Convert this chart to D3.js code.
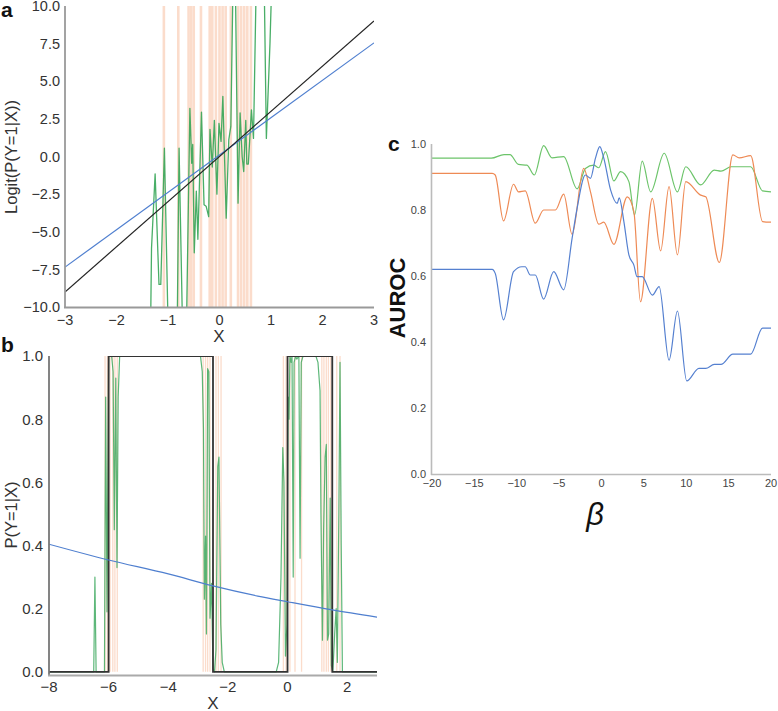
<!DOCTYPE html>
<html>
<head>
<meta charset="utf-8">
<script src="https://cdn.jsdelivr.net/npm/d3@7"></script>
<style>
  html, body { margin: 0; padding: 0; background: #fff; }
  svg { display: block; }
  text { font-family: "Liberation Sans", Arial, sans-serif; }
</style>
</head>
<body>
<div id="chart"></div>
<script>
// ---------- Panel a data ----------
const aXTicks = [-3, -2, -1, 0, 1, 2, 3];
const aYTicks = [-10, -7.5, -5, -2.5, 0, 2.5, 5, 7.5, 10];
const aTrueX = [-3, 3];
const aTrueY = [-9, 9];
const aFitX = [-3, 3];
const aFitY = [-7.35, 7.55];
const aSampleX = [-1.08, -0.80, -0.60, -0.55, -0.50, -0.36, -0.19, -0.14, -0.07, 0.0, 0.06, 0.12, 0.22, 0.36, 0.42, 0.48, 0.54, 0.61];
const aEstX = [-1.34, -1.32, -1.25, -1.175, -1.14, -1.07, -1.0, -0.82, -0.785, -0.72, -0.64, -0.575, -0.54, -0.52, -0.49, -0.45, -0.42, -0.35, -0.30, -0.26, -0.21, -0.185, -0.14, -0.10, -0.05, -0.01, 0.03, 0.065, 0.13, 0.18, 0.22, 0.26, 0.31, 0.36, 0.40, 0.44, 0.47, 0.51, 0.53, 0.56, 0.62, 0.66, 0.71, 0.87, 0.91, 0.98, 1.01];
const aEstY = [-12, -6.1, -1.15, -8.5, -8.5, 0.55, -11, -11, 0.55, -11, -11, 3.2, -0.45, 0.8, -6.4, -2.3, -5.5, 2.95, -3.2, -3.3, -4.0, 1.8, -0.7, 2.4, -2.5, 2.2, 1.0, 4.0, -4.1, 1.1, 2.0, 11, 11, -3.1, 2.9, 0.0, -1.0, 2.4, -0.5, -0.5, 3.1, 1.2, 11, 11, 1.2, 7.5, 11];

// ---------- Panel b data ----------
const bXTicks = [-8, -6, -4, -2, 0, 2];
const bYTicks = [0, 0.2, 0.4, 0.6, 0.8, 1.0];
const bStepX = [-8, -6.0, -6.0, -2.5, -2.5, 0, 0, 1.5, 1.5, 3];
const bStepY = [0, 0, 1, 1, 0, 0, 1, 1, 0, 0];
const bFitX = [-8, -6, -4, -2.5, -1, 0, 1.5, 3];
const bFitY = [0.404, 0.354, 0.31, 0.272, 0.24, 0.222, 0.196, 0.173];
const bSampleX = [-6.12, -6.04, -5.95, -5.86, -5.79, -5.71, -2.83, -2.75, -2.68, -2.60, -2.40, -2.32, -2.23, -0.14, -0.05, 0.08, 0.25, 0.47, 1.15, 1.22, 1.30, 1.37, 1.45, 1.65, 1.76];
const bEstX = [-8, -6.55, -6.50, -6.46, -6.42, -6.14, -6.10, -6.055, -6.0, -5.9, -5.85, -5.81, -5.76, -5.72, -5.68, -5.63, -2.92, -2.86, -2.82, -2.79, -2.75, -2.72, -2.68, -2.64, -2.60, -2.55, -2.50, -2.45, -2.40, -2.34, -2.30, -2.24, -2.19, -2.12, -0.38, -0.30, -0.22, -0.16, -0.12, -0.07, -0.02, 0.02, 0.05, 0.08, 0.12, 0.15, 0.19, 0.22, 0.27, 0.31, 0.38, 0.42, 0.46, 0.52, 0.95, 1.02, 1.09, 1.12, 1.17, 1.21, 1.26, 1.30, 1.34, 1.38, 1.43, 1.47, 1.52, 1.58, 1.63, 1.67, 1.72, 1.76, 1.80, 1.84, 3];
const bEstY = [0, 0, 0, 0.30, 0, 0, 0.87, 0.19, 1.0, 1.0, 0.95, 0.45, 0.93, 0.33, 0.87, 1.0, 1.0, 0.95, 0.77, 0.23, 0.43, 0.12, 0.96, 0.95, 0.17, 0.28, 0.01, 0, 0.07, 0.65, 0.68, 0.15, 0.03, 0, 0, 0.03, 0.30, 0.71, 0.60, 0.05, 0.15, 0.87, 0.80, 1.0, 0.98, 1.0, 0.30, 0.98, 1.0, 0.99, 1.0, 0.36, 0.98, 1.0, 1.0, 0.98, 0.89, 0.50, 0.10, 0.45, 0.68, 0.72, 0.10, 0.12, 0.55, 0.02, 0, 0.12, 0.20, 0.03, 0.50, 0.98, 0.40, 0, 0];

// ---------- Panel c data ----------
const cXTicks = [-20, -15, -10, -5, 0, 5, 10, 15, 20];
const cYTicks = [0, 0.2, 0.4, 0.6, 0.8, 1.0];
const cGreenX = [-20, -13, -11.5, -10.8, -9.8, -8.8, -7.93, -6.83, -5.84, -4.46, -2.88, -1.9, -0.91, -0.32, 0.47, 1.46, 2.25, 3.23, 3.9, 4.8, 5.8, 7.4, 8.96, 9.94, 11.7, 13.3, 14.1, 15.3, 17.6, 19.0, 20];
const cGreenY = [0.957, 0.957, 0.968, 0.968, 0.938, 0.936, 0.906, 0.995, 0.958, 0.962, 0.864, 0.926, 0.936, 0.928, 0.977, 0.888, 0.916, 0.886, 0.785, 0.948, 0.855, 0.972, 0.855, 0.931, 0.876, 0.921, 0.918, 0.931, 0.931, 0.858, 0.855];
const cOrangeX = [-20, -12.9, -12.54, -11.56, -10.38, -9.8, -9.0, -7.81, -6.83, -5.44, -4.46, -3.47, -2.1, -1.3, -0.32, 0.27, 1.46, 3.04, 3.82, 4.6, 6.0, 6.98, 7.97, 8.96, 9.94, 11.7, 12.3, 13.9, 15.5, 16.25, 17.6, 19.0, 20];
const cOrangeY = [0.911, 0.911, 0.906, 0.767, 0.878, 0.855, 0.858, 0.760, 0.80, 0.80, 0.848, 0.726, 0.926, 0.855, 0.757, 0.763, 0.696, 0.840, 0.795, 0.522, 0.835, 0.676, 0.871, 0.664, 0.886, 0.845, 0.840, 0.641, 0.967, 0.958, 0.965, 0.765, 0.763];
const cBlueX = [-20, -12.9, -12.54, -11.56, -10.38, -9.4, -9.0, -8.4, -7.81, -6.83, -5.64, -4.46, -3.47, -2.88, -1.9, -1.3, -0.71, -0.2, 0.27, 1.07, 1.85, 2.09, 2.64, 3.23, 3.82, 4.2, 4.8, 6.0, 6.8, 7.97, 8.96, 10.06, 11.5, 12.3, 13.3, 14.1, 15.5, 17.6, 19.0, 20];
const cBlueY = [0.62, 0.62, 0.608, 0.467, 0.613, 0.628, 0.628, 0.603, 0.603, 0.530, 0.613, 0.558, 0.714, 0.805, 0.906, 0.896, 0.957, 0.992, 0.957, 0.861, 0.820, 0.837, 0.765, 0.664, 0.633, 0.598, 0.598, 0.542, 0.568, 0.345, 0.494, 0.282, 0.320, 0.320, 0.332, 0.332, 0.363, 0.363, 0.442, 0.442];

// ---------- Drawing ----------
const W = 778, H = 711;
const svg = d3.select("#chart").append("svg").attr("width", W).attr("height", H);
const zip = (xs, ys) => xs.map((x, i) => [x, ys[i]]);
const fmt1 = d3.format(".1f");
const fmtI = d3.format("d");

const GREEN = "#35a557", PEACH = "#fbdccb";

function panel(opts) {
  const { x, y, id } = opts;
  const g = svg.append("g");
  const [x0, x1] = x.range(), [y0, y1] = y.range();
  svg.append("clipPath").attr("id", id).append("rect")
    .attr("x", x0).attr("y", y1).attr("width", x1 - x0).attr("height", y0 - y1);
  const plot = g.append("g").attr("clip-path", `url(#${id})`);
  return { g, plot };
}

// ===== Panel a =====
{
  const x = d3.scaleLinear().domain([-3, 3]).range([65, 374]);
  const y = d3.scaleLinear().domain([-10, 10]).range([307, 6]);
  const { g, plot } = panel({ x, y, id: "clipA" });
  plot.selectAll("line.samp").data(aSampleX).join("line")
    .attr("x1", d => x(d)).attr("x2", d => x(d))
    .attr("y1", y(10)).attr("y2", y(-10))
    .attr("stroke", PEACH).attr("stroke-width", 2.6);
  const line = d3.line().x(d => x(d[0])).y(d => y(d[1]));
  plot.append("path").datum(zip(aEstX, aEstY)).attr("d", line)
    .attr("fill", "none").attr("stroke", GREEN).attr("stroke-opacity", 0.9).attr("stroke-width", 1.3).attr("stroke-linejoin", "round");
  plot.append("path").datum(zip(aFitX, aFitY)).attr("d", line)
    .attr("fill", "none").attr("stroke", "#4f7fcf").attr("stroke-width", 1.2);
  plot.append("path").datum(zip(aTrueX, aTrueY)).attr("d", line)
    .attr("fill", "none").attr("stroke", "#222").attr("stroke-width", 1.2);
  // spines
  g.append("line").attr("x1", 65).attr("x2", 65).attr("y1", 6).attr("y2", 307.5).attr("stroke", "#999").attr("stroke-width", 1.8);
  g.append("line").attr("x1", 64).attr("x2", 374).attr("y1", 307.5).attr("y2", 307.5).attr("stroke", "#999").attr("stroke-width", 2);
  g.selectAll("text.yt").data(aYTicks).join("text")
    .attr("x", 60).attr("y", d => y(d)).attr("dy", "0.36em").attr("text-anchor", "end")
    .attr("font-size", 14.5).attr("fill", "#333").text(d => fmt1(d));
  g.selectAll("text.xt").data(aXTicks).join("text")
    .attr("x", d => x(d)).attr("y", 325).attr("text-anchor", "middle")
    .attr("font-size", 14.5).attr("fill", "#333").text(d => fmtI(d));
  g.append("text").attr("x", 219).attr("y", 342).attr("text-anchor", "middle")
    .attr("font-size", 17).attr("fill", "#333").text("X");
  g.append("text").attr("transform", "translate(17,157) rotate(-90)").attr("text-anchor", "middle")
    .attr("font-size", 16.5).attr("fill", "#333").text("Logit(P(Y=1|X))");
  g.append("text").attr("x", 1).attr("y", 17).attr("font-size", 21).attr("font-weight", "bold").attr("fill", "#111").text("a");
}

// ===== Panel b =====
{
  const x = d3.scaleLinear().domain([-8, 3]).range([49, 377]);
  const y = d3.scaleLinear().domain([-0.01, 1]).range([675, 356]);
  const { g, plot } = panel({ x, y, id: "clipB" });
  plot.selectAll("line.samp").data(bSampleX).join("line")
    .attr("x1", d => x(d)).attr("x2", d => x(d))
    .attr("y1", y(1)).attr("y2", y(0))
    .attr("stroke", PEACH).attr("stroke-width", 1.3);
  const line = d3.line().x(d => x(d[0])).y(d => y(d[1]));
  plot.append("path").datum(zip(bEstX, bEstY)).attr("d", line)
    .attr("fill", "none").attr("stroke", GREEN).attr("stroke-opacity", 0.8).attr("stroke-width", 1.2).attr("stroke-linejoin", "round");
  plot.append("path").datum(zip(bStepX, bStepY)).attr("d", line)
    .attr("fill", "none").attr("stroke", "#333").attr("stroke-width", 1.8);
  const curve = d3.line().x(d => x(d[0])).y(d => y(d[1])).curve(d3.curveMonotoneX);
  plot.append("path").datum(zip(bFitX, bFitY)).attr("d", curve)
    .attr("fill", "none").attr("stroke", "#4f7fcf").attr("stroke-width", 1.2);
  g.append("line").attr("x1", 49).attr("x2", 49).attr("y1", 356).attr("y2", 675.5).attr("stroke", "#777").attr("stroke-width", 1.8);
  g.append("line").attr("x1", 48).attr("x2", 377).attr("y1", 675.5).attr("y2", 675.5).attr("stroke", "#aaa").attr("stroke-width", 2);
  g.selectAll("text.yt").data(bYTicks).join("text")
    .attr("x", 43).attr("y", d => y(d)).attr("dy", "0.36em").attr("text-anchor", "end")
    .attr("font-size", 15).attr("fill", "#333").text(d => fmt1(d));
  g.selectAll("text.xt").data(bXTicks).join("text")
    .attr("x", d => x(d)).attr("y", 692).attr("text-anchor", "middle")
    .attr("font-size", 15).attr("fill", "#333").text(d => fmtI(d));
  g.append("text").attr("x", 213).attr("y", 709).attr("text-anchor", "middle")
    .attr("font-size", 17).attr("fill", "#333").text("X");
  g.append("text").attr("transform", "translate(17,515) rotate(-90)").attr("text-anchor", "middle")
    .attr("font-size", 16.5).attr("fill", "#333").text("P(Y=1|X)");
  g.append("text").attr("x", 1).attr("y", 352).attr("font-size", 21).attr("font-weight", "bold").attr("fill", "#111").text("b");
}

// ===== Panel c =====
{
  const x = d3.scaleLinear().domain([-20, 20]).range([432, 771]);
  const y = d3.scaleLinear().domain([0, 1]).range([474, 144]);
  const g = svg.append("g");
  const curve = d3.line().x(d => x(d[0])).y(d => y(d[1])).curve(d3.curveMonotoneX);
  g.append("path").datum(zip(cGreenX, cGreenY)).attr("d", curve)
    .attr("fill", "none").attr("stroke", "#6cc46a").attr("stroke-width", 1.2);
  g.append("path").datum(zip(cOrangeX, cOrangeY)).attr("d", curve)
    .attr("fill", "none").attr("stroke", "#ee8a55").attr("stroke-width", 1.2);
  g.append("path").datum(zip(cBlueX, cBlueY)).attr("d", curve)
    .attr("fill", "none").attr("stroke", "#5580d0").attr("stroke-width", 1.2);
  g.append("line").attr("x1", 431.5).attr("x2", 431.5).attr("y1", 144).attr("y2", 475).attr("stroke", "#bbb").attr("stroke-width", 1.6);
  g.append("line").attr("x1", 431).attr("x2", 771).attr("y1", 474.5).attr("y2", 474.5).attr("stroke", "#bbb").attr("stroke-width", 1.6);
  g.selectAll("text.yt").data(cYTicks).join("text")
    .attr("x", 426).attr("y", d => y(d)).attr("dy", "0.36em").attr("text-anchor", "end")
    .attr("font-size", 11).attr("fill", "#444").text(d => fmt1(d));
  g.selectAll("text.xt").data(cXTicks).join("text")
    .attr("x", d => x(d)).attr("y", 487).attr("text-anchor", "middle")
    .attr("font-size", 11).attr("fill", "#444").text(d => fmtI(d));
  g.append("text").attr("x", 595).attr("y", 525).attr("text-anchor", "middle")
    .attr("font-family", "'DejaVu Serif', 'Liberation Serif', serif").attr("font-style", "italic")
    .attr("font-size", 31).attr("fill", "#111").text("β");
  g.append("text").attr("transform", "translate(405,298) rotate(-90)").attr("text-anchor", "middle")
    .attr("font-size", 22).attr("font-weight", "bold").attr("fill", "#111").text("AUROC");
  g.append("text").attr("x", 388).attr("y", 151).attr("font-size", 21).attr("font-weight", "bold").attr("fill", "#111").text("c");
}
</script>
</body>
</html>
